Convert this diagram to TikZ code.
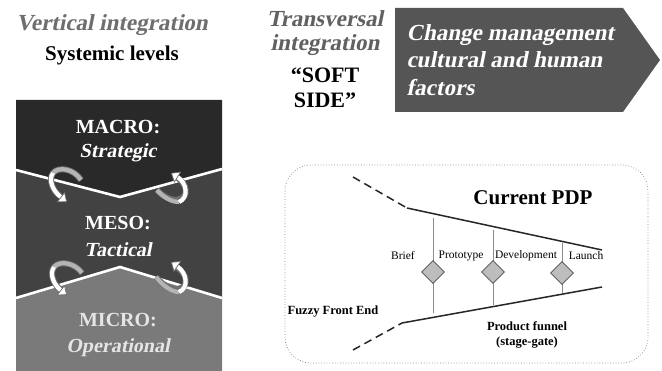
\documentclass[tikz,border=0pt]{standalone}
\usepackage{fontspec}
\setmainfont{Liberation Serif}
\newfontfamily\bislant{Liberation Serif}[FakeSlant=0.2]
\usetikzlibrary{arrows.meta,shapes.geometric}
\definecolor{macro}{HTML}{292929}
\definecolor{meso}{HTML}{424242}
\definecolor{micro}{HTML}{7A7A7A}
\definecolor{arrowbox}{HTML}{555555}
\definecolor{titlegray}{HTML}{6E6E6E}
\definecolor{ribbonedge}{HTML}{707070}
\definecolor{ribbonback}{HTML}{B4B4B4}
\definecolor{gatefill}{HTML}{BDBDBD}
\definecolor{gatestem}{HTML}{8C8C8C}
\begin{document}
\begin{tikzpicture}[x=1pt,y=-1pt,
  title/.style={text=titlegray,font=\fontsize{23}{25}\selectfont\bislant\bfseries},
  levelname/.style={text=white,font=\fontsize{20}{22}\selectfont\bfseries},
  levelsub/.style={text=white,font=\fontsize{20}{22}\selectfont\bislant\bfseries},
  boundary/.style={draw=white,line width=2.6pt},
  ribbonout/.style={draw=ribbonedge,line width=6pt},
  ribbonbk/.style={draw=ribbonback,line width=4.2pt},
  ribbontip/.style={draw=white,line width=4.2pt,-{Triangle[length=8pt,width=13pt,fill=white,color=ribbonedge,line width=0.7pt]}},
  funnel/.style={draw=black!85,line width=1.5pt},
  fuzzy/.style={draw=black!85,line width=1.5pt,dash pattern=on 8pt off 5pt},
  stemline/.style={draw=gatestem,line width=1pt},
  gate/.style={diamond,draw=black!70,fill=gatefill,line width=0.8pt,minimum width=23pt,minimum height=23pt,inner sep=0pt},
  stage/.style={font=\fontsize{11.5}{12}\selectfont},
  bold12/.style={font=\fontsize{12.5}{15}\selectfont\bfseries,align=center}
]
\useasboundingbox (0,0) rectangle (662,371);
\fill[white] (0,0) rectangle (662,371);

% ---------- top left titles ----------
\node[title] (vert) at (112,25) {Vertical integration};
\node[font=\fontsize{21}{23}\selectfont\bfseries] (sys) at (112,55) {Systemic levels};

% ---------- level column ----------
\fill[micro] (16,298) -- (120,267) -- (222,298) -- (222,371) -- (16,371) -- cycle;
\fill[meso] (16,170) -- (120,197) -- (222,169) -- (222,298) -- (120,267) -- (16,298) -- cycle;
\fill[macro] (16,100) -- (222,100) -- (222,169) -- (120,197) -- (16,170) -- cycle;
\draw[boundary] (16,170) -- (120,197) -- (222,169);
\draw[boundary] (16,298) -- (120,267) -- (222,298);

\node[levelname] (macro) at (118,127) {MACRO:};
\node[levelsub] (strat) at (118,153) {Strategic};
\node[levelname] (meso) at (118,223) {MESO:};
\node[levelsub] (tact) at (118,250) {Tactical};
\node[levelname,text=black!10] (micro) at (118,320) {MICRO:};
\node[levelsub,text=black!10] (oper) at (118,348) {Operational};

% ---------- ribbon arrows ----------
% left, upper boundary
\draw[ribbonout] (81,180) .. controls (74,169) and (59,166) .. (53,173) .. controls (48,180) and (53,191) .. (60,196);
\draw[ribbonbk] (81,180) .. controls (74,169) and (59,166) .. (53,173);
\draw[ribbontip] (53,173) .. controls (48,180) and (53,191) .. (67,202);
% right, upper boundary
\draw[ribbonout] (157,190) .. controls (164,198) and (178,205) .. (185,195) .. controls (188,188) and (182,180) .. (176,177);
\draw[ribbonbk] (157,190) .. controls (164,198) and (172,202) .. (179,202);
\draw[ribbontip] (179,202) .. controls (189,198) and (187,183) .. (171,173);
% left, lower boundary
\draw[ribbonout] (82,273) .. controls (75,263) and (60,260) .. (54,267) .. controls (49,274) and (54,285) .. (61,290);
\draw[ribbonbk] (82,273) .. controls (75,263) and (60,260) .. (54,267);
\draw[ribbontip] (54,267) .. controls (49,274) and (54,285) .. (67,295);
% right, lower boundary
\draw[ribbonout] (156,277) .. controls (163,286) and (177,294) .. (185,285) .. controls (188,278) and (182,270) .. (176,267);
\draw[ribbonbk] (156,277) .. controls (163,286) and (172,292) .. (179,292);
\draw[ribbontip] (179,292) .. controls (189,288) and (187,273) .. (171,262);

% ---------- transversal ----------
\node[title,text=black!62] (trans) at (325,19) {Transversal};
\node[title,text=black!62] (integ) at (325,45) {integration};
\node[font=\fontsize{22}{24}\selectfont\bfseries] (soft) at (325,75) {“SOFT};
\node[font=\fontsize{22}{24}\selectfont\bfseries] (side) at (325,100) {SIDE”};

\fill[arrowbox] (395,8) -- (623,8) -- (660,60) -- (623,112) -- (395,112) -- cycle;
\node[anchor=west,text=white,font=\fontsize{23}{27.5}\selectfont\bislant\bfseries,align=left] (change) at (403,60)
  {Change management\\cultural and human\\factors};

% ---------- PDP box ----------
\draw[gray,dotted,line width=0.7pt,rounded corners=26pt] (285,165) rectangle (648,363);
\node[font=\fontsize{21}{23}\selectfont\bfseries] (pdp) at (533,198) {Current PDP};

\coordinate (tl0) at (353,177);
\coordinate (tl1) at (407,208);
\coordinate (tr) at (602,250);
\coordinate (bl0) at (353,350);
\coordinate (bl1) at (402,323);
\coordinate (br) at (602,287);
\draw[fuzzy] (tl0) -- (tl1);
\draw[fuzzy] (bl0) -- (bl1);
\draw[funnel] (tl1) -- (tr);
\draw[funnel] (bl1) -- (br);

\coordinate (g1t) at (433,218); \coordinate (g1b) at (433,313);
\coordinate (g2t) at (493,230); \coordinate (g2b) at (493,305);
\coordinate (g3t) at (562,243); \coordinate (g3b) at (562,293);
\draw[stemline] (g1t) -- (g1b);
\draw[stemline] (g2t) -- (g2b);
\draw[stemline] (g3t) -- (g3b);
\node[gate] (gate1) at (433,272) {};
\node[gate] (gate2) at (493,272) {};
\node[gate] (gate3) at (562,273) {};

\node[stage] (brief) at (403,256) {Brief};
\node[stage] (proto) at (461,256) {Prototype};
\node[stage] (dev) at (526,256) {Development};
\node[stage] (launch) at (586,256) {Launch};

\node[bold12] (ffe) at (333,312) {Fuzzy Front End};
\node[bold12] (funnel) at (527,335) {Product funnel\\(stage-gate)};
\end{tikzpicture}
\end{document}
